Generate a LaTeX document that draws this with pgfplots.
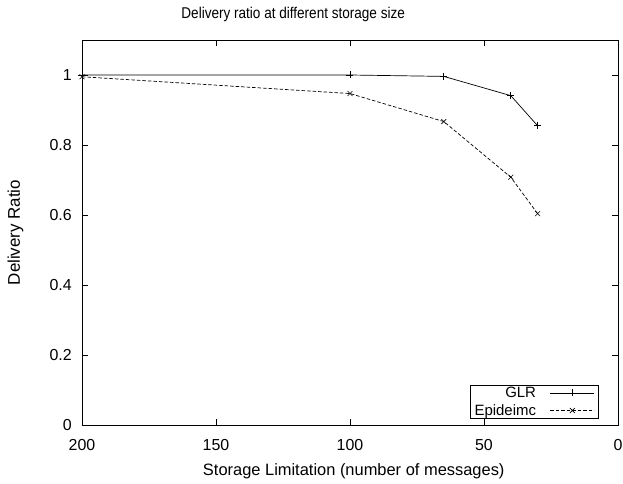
\documentclass[border=0pt]{standalone}
\usepackage{fontspec}
\setmainfont{Liberation Sans}
\usepackage{pgfplots}
\pgfplotsset{compat=1.18}
\begin{document}
\begin{tikzpicture}
\begin{axis}[
  at={(0,0)}, anchor=south west,
  scale only axis,
  width=536bp, height=385bp,
  x dir=reverse,
  xmin=0, xmax=200, ymin=0, ymax=1.1,
  xtick={0,50,100,150,200},
  ytick={0,0.2,0.4,0.6,0.8,1},
  tick align=inside,
  major tick length=6bp,
  axis line style={line width=0.8bp},
  every tick/.style={black, line width=0.6bp},
  /pgf/number format/assume math mode=true,
  tick label style={font=\fontsize{16}{18}\selectfont},
  xticklabel style={anchor=base, yshift=-25bp},
  yticklabel style={anchor=east, inner sep=0pt, xshift=-10bp},
  legend style={at={(0.9646,0.0156)}, anchor=south east, draw=black, line width=0.6bp,
    font=\fontsize{15}{17}\selectfont, inner xsep=2bp, inner ysep=0bp,
    row sep=1.5bp},
  legend cell align=right,
  legend plot pos=right,
  legend image code/.code={\path (0bp,0bp) (58bp,0bp); \draw[mark repeat=2,mark phase=2] plot coordinates {(12bp,0bp)(34bp,0bp)(56bp,0bp)};},
  clip=false,
]
\addplot[black, line width=0.7bp, mark=+, mark size=3.5bp, mark options={solid, line width=0.6bp}]
  coordinates {(200,1.0)(100,1.0)(65,0.996)(40,0.941)(30,0.855)};
\addlegendentry{GLR}
\addplot[black, line width=0.7bp, dash pattern=on 3.5bp off 2bp, mark=x, mark size=3.5bp, mark options={solid, line width=0.6bp}]
  coordinates {(200,0.995)(100,0.947)(65,0.867)(40,0.708)(30,0.604)};
\addlegendentry{Epideimc}
\node[anchor=base, font=\fontsize{13.6}{15}\selectfont] at ([yshift=21bp]rel axis cs:0.394,1) {\scalebox{1}[1.15]{Delivery ratio at different storage size}};
\node[anchor=base, font=\fontsize{16.5}{18}\selectfont] at ([yshift=-50bp]rel axis cs:0.507,0) {Storage Limitation (number of messages)};
\node[anchor=base, rotate=90, font=\fontsize{17}{19}\selectfont] at ([xshift=-62bp]rel axis cs:0,0.5) {Delivery Ratio};
\end{axis}
\pgfresetboundingbox
\path[use as bounding box] (-82bp,-59bp) rectangle (541bp,425bp);
\end{tikzpicture}
\end{document}
